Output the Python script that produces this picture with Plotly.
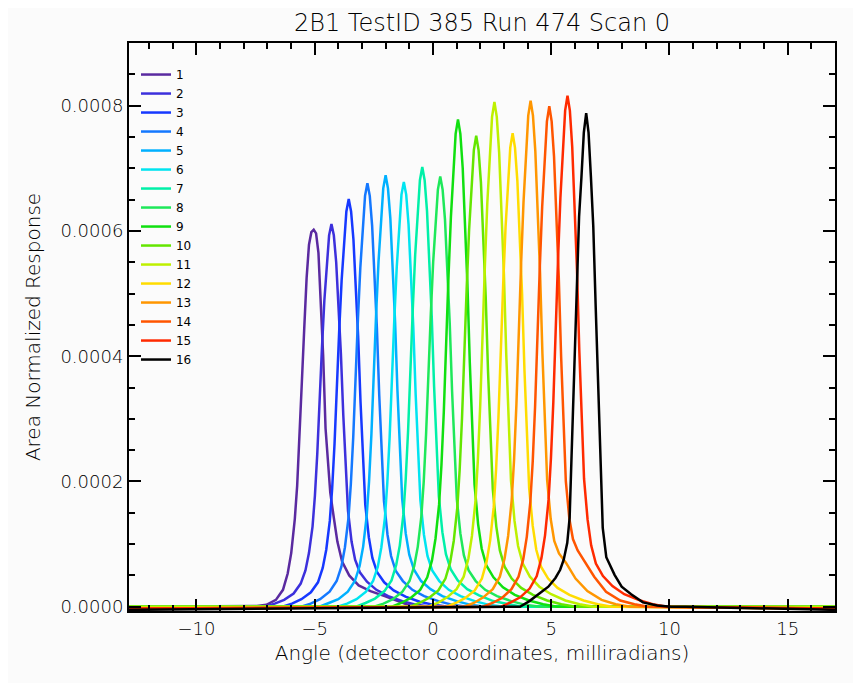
import plotly.graph_objects as go

TITLE = "2B1 TestID 385 Run 474 Scan 0"
X_TITLE = "Angle (detector coordinates, milliradians)"
Y_TITLE = "Area Normalized Response"

SERIES_NAMES = [str(i) for i in range(1, 17)]
COLORS = ["#5a2aa0", "#3c30dc", "#1638ff", "#1478ff", "#00b0ff", "#00e4f0",
          "#00f0a8", "#1ee85a", "#10e010", "#64e600", "#bef000", "#ffdc00",
          "#ff9600", "#ff5500", "#ff2a00", "#000000"]

# peak centres (milliradians)
CENTERS = [-5.04, -4.29, -3.56, -2.77, -2.00, -1.23, -0.45, 0.31,
           1.06, 1.83, 2.60, 3.37, 4.13, 4.92, 5.69, 6.48]

# sample offsets from each peak centre (milliradians)
OFFSETS = [-2.8, -2.4, -2.0, -1.6, -1.3, -1.1, -0.95, -0.8, -0.7, -0.6, -0.5,
           -0.4, -0.3, -0.2, -0.1, 0.0, 0.1, 0.2, 0.3, 0.4, 0.5, 0.6, 0.7,
           0.85, 1.0, 1.2, 1.5, 1.9, 2.4, 3.0, 3.6, 4.2]

# data extent (baseline runs across the whole scan)
X_START = -12.85
X_END = 17.0

# responses in units of 1e-6 at the offsets above
R1 = [0, 1, 3, 11, 27, 53, 86, 140, 193, 268, 360, 445, 525, 578, 598, 602, 596, 565, 485, 400, 285, 225, 182, 142, 104, 72, 50, 34, 25, 17, 8, 0]
R2 = [0, 5, 11, 21, 37, 58, 86, 128, 177, 244, 336, 415, 489, 550, 593, 611, 593, 550, 483, 403, 306, 220, 153, 104, 75, 55, 40, 27, 17, 9, 3, 0]
R3 = [0, 5, 12, 23, 39, 62, 91, 137, 189, 260, 358, 443, 521, 586, 631, 651, 631, 586, 514, 430, 326, 234, 163, 111, 78, 55, 39, 26, 16, 8, 3, 0]
R4 = [0, 5, 12, 24, 41, 64, 95, 142, 196, 270, 372, 460, 541, 608, 656, 676, 656, 608, 534, 446, 338, 243, 169, 115, 81, 57, 41, 27, 17, 9, 3, 0]
R5 = [0, 6, 12, 24, 41, 65, 96, 145, 200, 276, 379, 469, 551, 620, 668, 689, 668, 620, 544, 455, 345, 248, 172, 117, 83, 59, 41, 28, 17, 9, 3, 0]
R6 = [0, 5, 12, 24, 41, 64, 95, 142, 197, 271, 373, 461, 542, 610, 658, 678, 658, 610, 536, 447, 339, 244, 170, 115, 81, 58, 41, 27, 17, 9, 3, 0]
R7 = [0, 6, 13, 25, 42, 67, 98, 147, 204, 281, 386, 477, 562, 632, 681, 702, 681, 632, 555, 463, 351, 253, 176, 119, 84, 60, 42, 28, 18, 9, 4, 0]
R8 = [0, 5, 12, 24, 41, 65, 96, 144, 199, 275, 378, 467, 550, 618, 666, 687, 666, 618, 543, 453, 344, 247, 172, 117, 82, 58, 41, 27, 17, 9, 3, 0]
R9 = [0, 6, 14, 27, 47, 74, 109, 163, 226, 311, 428, 529, 622, 700, 755, 778, 755, 700, 615, 513, 389, 280, 195, 132, 93, 66, 47, 31, 19, 10, 4, 0]
R10 = [0, 6, 14, 26, 45, 71, 105, 158, 218, 301, 414, 511, 602, 677, 729, 752, 729, 677, 594, 496, 376, 271, 188, 128, 90, 64, 45, 30, 19, 10, 4, 0]
R11 = [0, 6, 15, 28, 48, 77, 113, 169, 234, 322, 443, 548, 645, 725, 782, 806, 782, 725, 637, 532, 403, 290, 202, 137, 97, 69, 48, 32, 20, 10, 4, 0]
R12 = [0, 6, 14, 26, 45, 72, 106, 159, 219, 302, 416, 514, 605, 680, 733, 756, 733, 680, 597, 499, 378, 272, 189, 129, 91, 64, 45, 30, 19, 10, 4, 0]
R13 = [0, 6, 15, 28, 48, 77, 113, 170, 234, 323, 444, 549, 646, 727, 784, 808, 784, 727, 638, 533, 404, 291, 202, 140, 105, 85, 70, 45, 25, 11, 4, 0]
R14 = [0, 6, 14, 28, 48, 76, 112, 168, 232, 320, 439, 543, 639, 719, 775, 799, 775, 719, 631, 527, 400, 288, 200, 140, 108, 90, 72, 48, 24, 10, 4, 0]
R15 = [0, 7, 15, 29, 49, 78, 114, 171, 237, 326, 449, 555, 653, 734, 792, 816, 792, 734, 645, 539, 408, 294, 204, 139, 98, 69, 49, 33, 20, 11, 4, 0]
R16 = [0, 9, 21, 32, 46, 59, 75, 102, 142, 260, 394, 520, 623, 686, 757, 788, 757, 686, 607, 481, 355, 213, 126, 79, 67, 51, 32, 20, 7, 2, 0, 0]
RESPONSES = [R1, R2, R3, R4, R5, R6, R7, R8, R9, R10, R11, R12, R13, R14, R15, R16]

# baseline level far from the peak (units of 1e-6)
BASELINES = [0, 0, 0, 0, 0, 0, 0, 0, 0, 0, 0, -3, -3, -3, -3, -5]

X_RANGE = [-12.85, 17.0]
Y_RANGE = [-0.0000068, 0.0009]
X_TICKS = [-10, -5, 0, 5, 10, 15]
Y_TICKS = [0.0, 0.0002, 0.0004, 0.0006, 0.0008]

SCALE = 1e-6

fig = go.Figure()
for name, color, c, resp, base in zip(SERIES_NAMES, COLORS, CENTERS, RESPONSES, BASELINES):
    xs = [X_START] + [c + o for o in OFFSETS] + [X_END]
    ys = [base * SCALE] + [v * SCALE for v in resp] + [base * SCALE]
    fig.add_trace(go.Scatter(x=xs, y=ys, mode="lines", name=name,
                             line=dict(color=color, width=2.5)))

FONT = "DejaVu Sans"
axis_common = dict(showline=True, linecolor="black", linewidth=2, mirror="allticks",
                   ticks="inside", ticklen=12, tickwidth=2, tickcolor="black",
                   showgrid=False, zeroline=False,
                   tickfont=dict(family=FONT, size=18, color="black", weight=300))

fig.update_xaxes(range=X_RANGE, tickvals=X_TICKS,
                 minor=dict(dtick=1, tick0=0, ticks="inside", ticklen=6, tickwidth=2,
                            tickcolor="black", showgrid=False),
                 title=dict(text=X_TITLE, font=dict(family=FONT, size=20, color="black", weight=300),
                            standoff=8),
                 **axis_common)
fig.update_yaxes(range=Y_RANGE, tickvals=Y_TICKS, tickformat=".4f",
                 minor=dict(dtick=0.00005, tick0=0, ticks="inside", ticklen=6, tickwidth=2,
                            tickcolor="black", showgrid=False),
                 title=dict(text=Y_TITLE, font=dict(family=FONT, size=20, color="black", weight=300),
                            standoff=14),
                 **axis_common)

fig.update_layout(
    width=845, height=675,
    margin=dict(l=121, r=18, t=35, b=72, autoexpand=False),
    paper_bgcolor="#fbfbfb", plot_bgcolor="#fbfbfb",
    title=dict(text=TITLE, xref="paper", x=0.5, xanchor="center",
               yref="container", y=0.978, yanchor="middle",
               font=dict(family=FONT, size=24, color="black", weight=300)),
    legend=dict(x=0.0099, y=0.97, xanchor="left", yanchor="top",
                bgcolor="rgba(0,0,0,0)", borderwidth=0,
                font=dict(family=FONT, size=12, color="black"),
                tracegroupgap=0, itemwidth=30),
    showlegend=True,
)

fig.write_html("out.html")
